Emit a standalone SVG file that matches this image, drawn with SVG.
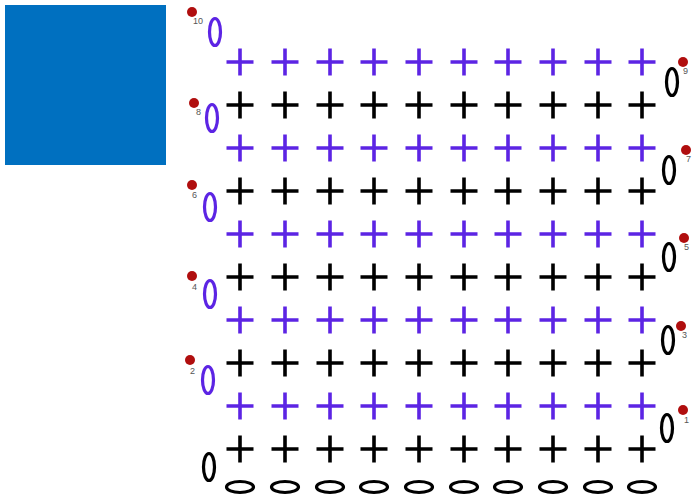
<svg xmlns="http://www.w3.org/2000/svg" width="692" height="502" viewBox="0 0 692 502">
<defs>
<style>
.p{stroke:#5c24e4;stroke-width:3.6;fill:none}
.k{stroke:#000;stroke-width:3.6;fill:none}
.ov{stroke-width:3.2;fill:none}
.dot{fill:#b00e0e}
.lb{font-family:"Liberation Sans",Arial,sans-serif;font-size:9px;fill:#555}
</style>
<path id="cp" d="M-13.5,0H13.5M0,-13.5V13.5"/>
</defs>
<rect x="5" y="5" width="161" height="160" fill="#0070c0"/>
<g id="crosses">
<g class="p" transform="translate(0,62)">
<use href="#cp" x="240"/><use href="#cp" x="285"/><use href="#cp" x="330"/><use href="#cp" x="374"/><use href="#cp" x="419"/><use href="#cp" x="464"/><use href="#cp" x="508"/><use href="#cp" x="553"/><use href="#cp" x="598"/><use href="#cp" x="642"/>
</g>
<g class="k" transform="translate(0,105)">
<use href="#cp" x="240"/><use href="#cp" x="285"/><use href="#cp" x="330"/><use href="#cp" x="374"/><use href="#cp" x="419"/><use href="#cp" x="464"/><use href="#cp" x="508"/><use href="#cp" x="553"/><use href="#cp" x="598"/><use href="#cp" x="642"/>
</g>
<g class="p" transform="translate(0,148)">
<use href="#cp" x="240"/><use href="#cp" x="285"/><use href="#cp" x="330"/><use href="#cp" x="374"/><use href="#cp" x="419"/><use href="#cp" x="464"/><use href="#cp" x="508"/><use href="#cp" x="553"/><use href="#cp" x="598"/><use href="#cp" x="642"/>
</g>
<g class="k" transform="translate(0,191)">
<use href="#cp" x="240"/><use href="#cp" x="285"/><use href="#cp" x="330"/><use href="#cp" x="374"/><use href="#cp" x="419"/><use href="#cp" x="464"/><use href="#cp" x="508"/><use href="#cp" x="553"/><use href="#cp" x="598"/><use href="#cp" x="642"/>
</g>
<g class="p" transform="translate(0,234)">
<use href="#cp" x="240"/><use href="#cp" x="285"/><use href="#cp" x="330"/><use href="#cp" x="374"/><use href="#cp" x="419"/><use href="#cp" x="464"/><use href="#cp" x="508"/><use href="#cp" x="553"/><use href="#cp" x="598"/><use href="#cp" x="642"/>
</g>
<g class="k" transform="translate(0,277)">
<use href="#cp" x="240"/><use href="#cp" x="285"/><use href="#cp" x="330"/><use href="#cp" x="374"/><use href="#cp" x="419"/><use href="#cp" x="464"/><use href="#cp" x="508"/><use href="#cp" x="553"/><use href="#cp" x="598"/><use href="#cp" x="642"/>
</g>
<g class="p" transform="translate(0,320)">
<use href="#cp" x="240"/><use href="#cp" x="285"/><use href="#cp" x="330"/><use href="#cp" x="374"/><use href="#cp" x="419"/><use href="#cp" x="464"/><use href="#cp" x="508"/><use href="#cp" x="553"/><use href="#cp" x="598"/><use href="#cp" x="642"/>
</g>
<g class="k" transform="translate(0,363)">
<use href="#cp" x="240"/><use href="#cp" x="285"/><use href="#cp" x="330"/><use href="#cp" x="374"/><use href="#cp" x="419"/><use href="#cp" x="464"/><use href="#cp" x="508"/><use href="#cp" x="553"/><use href="#cp" x="598"/><use href="#cp" x="642"/>
</g>
<g class="p" transform="translate(0,406)">
<use href="#cp" x="240"/><use href="#cp" x="285"/><use href="#cp" x="330"/><use href="#cp" x="374"/><use href="#cp" x="419"/><use href="#cp" x="464"/><use href="#cp" x="508"/><use href="#cp" x="553"/><use href="#cp" x="598"/><use href="#cp" x="642"/>
</g>
<g class="k" transform="translate(0,449)">
<use href="#cp" x="240"/><use href="#cp" x="285"/><use href="#cp" x="330"/><use href="#cp" x="374"/><use href="#cp" x="419"/><use href="#cp" x="464"/><use href="#cp" x="508"/><use href="#cp" x="553"/><use href="#cp" x="598"/><use href="#cp" x="642"/>
</g>
</g>
<g id="chain" class="ov" stroke="#000">
<ellipse cx="240" cy="487" rx="13.5" ry="5.5"/><ellipse cx="285" cy="487" rx="13.5" ry="5.5"/><ellipse cx="330" cy="487" rx="13.5" ry="5.5"/><ellipse cx="374" cy="487" rx="13.5" ry="5.5"/><ellipse cx="419" cy="487" rx="13.5" ry="5.5"/><ellipse cx="464" cy="487" rx="13.5" ry="5.5"/><ellipse cx="508" cy="487" rx="13.5" ry="5.5"/><ellipse cx="553" cy="487" rx="13.5" ry="5.5"/><ellipse cx="598" cy="487" rx="13.5" ry="5.5"/><ellipse cx="642" cy="487" rx="13.5" ry="5.5"/>
</g>
<g id="turning-left" class="ov" stroke="#5c24e4">
<ellipse cx="215" cy="32" rx="5.5" ry="13.5"/>
<ellipse cx="212" cy="118" rx="5.5" ry="13.5"/>
<ellipse cx="210" cy="207" rx="5.5" ry="13.5"/>
<ellipse cx="210" cy="294" rx="5.5" ry="13.5"/>
<ellipse cx="208" cy="380" rx="5.5" ry="13.5"/>
</g>
<ellipse cx="209" cy="467" rx="5.5" ry="13.5" class="ov" stroke="#000"/>
<g id="turning-right" class="ov" stroke="#000">
<ellipse cx="672" cy="82" rx="5.5" ry="13.5"/>
<ellipse cx="669" cy="170" rx="5.5" ry="13.5"/>
<ellipse cx="669" cy="257" rx="5.5" ry="13.5"/>
<ellipse cx="668" cy="340" rx="5.5" ry="13.5"/>
<ellipse cx="667" cy="428" rx="5.5" ry="13.5"/>
</g>
<g id="markers">
<circle class="dot" cx="192" cy="12" r="5"/><text class="lb" x="193" y="24">10</text>
<circle class="dot" cx="194" cy="103" r="5"/><text class="lb" x="196" y="115">8</text>
<circle class="dot" cx="192" cy="185" r="5"/><text class="lb" x="192" y="198">6</text>
<circle class="dot" cx="192" cy="276" r="5"/><text class="lb" x="192" y="290">4</text>
<circle class="dot" cx="190" cy="360" r="5"/><text class="lb" x="190" y="374">2</text>
<circle class="dot" cx="683" cy="62" r="5"/><text class="lb" x="683" y="74">9</text>
<circle class="dot" cx="686" cy="150" r="5"/><text class="lb" x="686" y="162">7</text>
<circle class="dot" cx="684" cy="238" r="5"/><text class="lb" x="684" y="250">5</text>
<circle class="dot" cx="681" cy="326" r="5"/><text class="lb" x="682" y="338">3</text>
<circle class="dot" cx="683" cy="410" r="5"/><text class="lb" x="684" y="423">1</text>
</g>
</svg>
